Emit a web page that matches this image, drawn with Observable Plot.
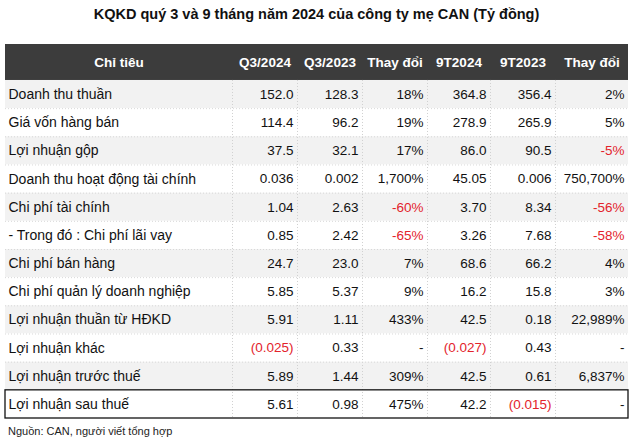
<!DOCTYPE html>
<html>
<head>
<meta charset="utf-8">
<script src="https://cdn.jsdelivr.net/npm/d3@7"></script>
<script src="https://cdn.jsdelivr.net/npm/@observablehq/plot@0.6"></script>
<style>
  html, body { margin: 0; padding: 0; background: #fff; }
  #title { height: 44px; box-sizing: border-box; padding-top: 6px; text-align: center;
    font: bold 14.5px "Liberation Sans", Arial, sans-serif; color: #111; }
  #chart svg { display: block; }
  #caption { padding-left: 8px; font: 11px "Liberation Sans", Arial, sans-serif; color: #222; line-height: 15px; margin-top: 0px; }
</style>
</head>
<body>
<div id="title">KQKD quý 3 và 9 tháng năm 2024 của công ty mẹ CAN (Tỷ đồng)</div>
<div id="chart"></div>
<div id="caption">Nguồn: CAN, người viết tổng hợp</div>
<script>
const headers = ["Chỉ tiêu", "Q3/2024", "Q3/2023", "Thay đổi", "9T2024", "9T2023", "Thay đổi"];
const labels = ["Doanh thu thuần", "Giá vốn hàng bán", "Lợi nhuận gộp", "Doanh thu hoạt động tài chính",
  "Chi phí tài chính", "- Trong đó : Chi phí lãi vay", "Chi phí bán hàng", "Chi phí quản lý doanh nghiệp",
  "Lợi nhuận thuần từ HĐKD", "Lợi nhuận khác", "Lợi nhuận trước thuế", "Lợi nhuận sau thuế"];
const q3_2024 = ["152.0", "114.4", "37.5", "0.036", "1.04", "0.85", "24.7", "5.85", "5.91", "(0.025)", "5.89", "5.61"];
const q3_2023 = ["128.3", "96.2", "32.1", "0.002", "2.63", "2.42", "23.0", "5.37", "1.11", "0.33", "1.44", "0.98"];
const chgQ3 = ["18%", "19%", "17%", "1,700%", "-60%", "-65%", "7%", "9%", "433%", "-", "309%", "475%"];
const t9_2024 = ["364.8", "278.9", "86.0", "45.05", "3.70", "3.26", "68.6", "16.2", "42.5", "(0.027)", "42.5", "42.2"];
const t9_2023 = ["356.4", "265.9", "90.5", "0.006", "8.34", "7.68", "66.2", "15.8", "0.18", "0.43", "0.61", "(0.015)"];
const chg9T = ["2%", "5%", "-5%", "750,700%", "-56%", "-58%", "4%", "3%", "22,989%", "-", "6,837%", "-"];

// layout (not data): column boundaries in pixels, header height in row units
const colEdges = [5, 232, 297, 362, 427, 490, 555, 628];
const headerRows = 1.277;

const series = [q3_2024, q3_2023, chgQ3, t9_2024, t9_2023, chg9T];
const rows = labels.map((label, i) => ({i, label}));
const cells = [];
series.forEach((arr, j) => arr.forEach((v, i) => cells.push({i, col: j + 1, text: v})));
const isNeg = (s) => /^-\d/.test(s) || s.startsWith("(");
const headerCells = headers.map((h, j) => ({col: j, text: h}));
const n = labels.length;

const font = '"Liberation Sans", Arial, sans-serif';
const chart = Plot.plot({
  width: 633,
  height: 380,
  marginTop: 0, marginBottom: 6, marginLeft: 0, marginRight: 0,
  x: {type: "linear", domain: d3.range(colEdges.length), range: colEdges, axis: null},
  y: {type: "linear", domain: [-headerRows, n], range: [0, 374], axis: null},
  style: {fontFamily: font, background: "transparent", overflow: "visible"},
  marks: [
    // row backgrounds
    Plot.rect(rows, {x1: 0, x2: colEdges.length - 1, y1: d => d.i, y2: d => d.i + 1,
      fill: d => d.i % 2 === 0 ? "#f2f2f2" : "#ffffff"}),
    // header band
    Plot.rect([0], {x1: 0, x2: colEdges.length - 1, y1: -headerRows, y2: 0, fill: "#3c3c3c"}),
    // dotted grid
    Plot.ruleX(d3.range(1, colEdges.length - 1), {y1: 0, y2: n, stroke: "#d0d0d0", strokeDasharray: "1,2"}),
    Plot.ruleY(d3.range(1, n - 1), {x1: 0, x2: colEdges.length - 1, stroke: "#d8d8d8", strokeDasharray: "1,2"}),
    // box around last row
    Plot.rect([n - 1], {x1: 0, x2: colEdges.length - 1, y1: d => d, y2: d => d + 1, fill: "none", stroke: "#111", strokeWidth: 1.3}),
    // header text
    Plot.text(headerCells, {x: d => d.col === 0 ? 0.5 : d.col + 0.5, y: -headerRows / 2, text: "text",
      fill: "#fff", fontWeight: "bold", fontSize: 13.5}),
    // label column
    Plot.text(rows, {x: 0, y: d => d.i + 0.5, text: "label", textAnchor: "start", dx: 3,
      fill: "#111", fontSize: 14}),
    // values
    Plot.text(cells, {x: d => d.col + 1, y: d => d.i + 0.5, text: "text", textAnchor: "end", dx: -4,
      fill: d => isNeg(d.text) ? "#e3232c" : "#111", fontSize: 13.5})
  ]
});
document.getElementById("chart").appendChild(chart);
</script>
</body>
</html>
